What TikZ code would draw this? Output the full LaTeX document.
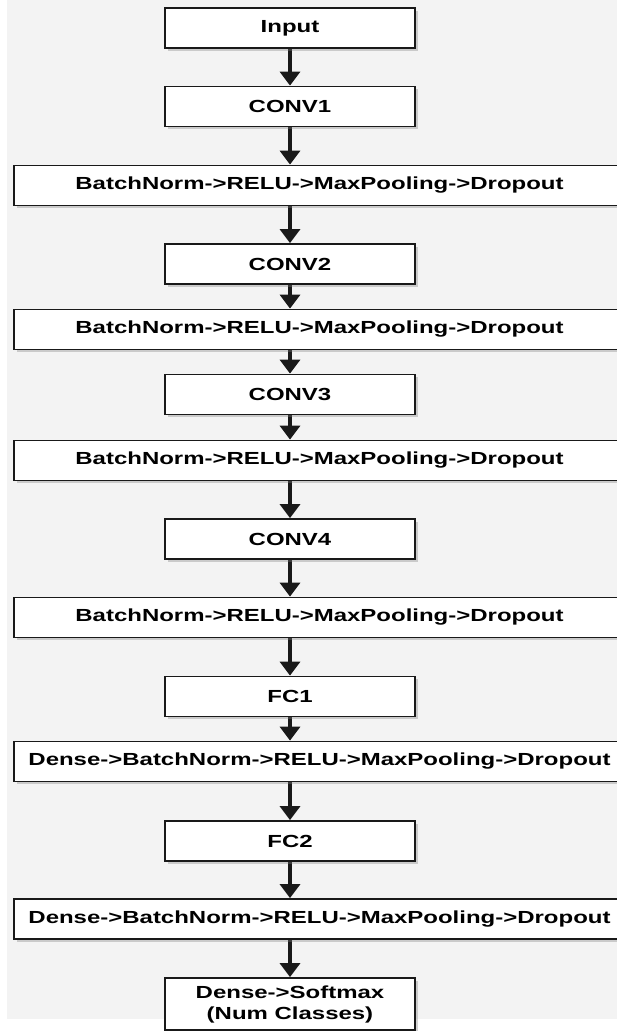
\documentclass[tikz,border=0pt]{standalone}
\usepackage{fontspec}
\setmainfont[FakeStretch=1.37]{Liberation Sans}
\usepackage{tikz}
\usetikzlibrary{arrows.meta,shadows}
\pgfdeclarelayer{bglayer}
\pgfdeclarelayer{edgelayer}
\pgfdeclarelayer{nodelayer}
\pgfsetlayers{bglayer,edgelayer,nodelayer,main}
\definecolor{paper}{RGB}{243,243,243}
\definecolor{ink}{RGB}{25,25,25}
\tikzstyle{layer}=[rectangle, fill=white, draw=ink, line width=1.8pt, minimum width=250pt, minimum height=40pt, inner sep=0pt, align=center, font=\fontsize{17.5}{21}\selectfont\bfseries, drop shadow={shadow xshift=2.5pt, shadow yshift=-2.5pt, opacity=0.35}]
\tikzstyle{stage}=[layer, minimum width=611pt]
\tikzstyle{flow}=[-{Triangle[length=14pt,width=20pt]}, draw=ink, line width=3.5pt]

\begin{document}
\begin{tikzpicture}[x=1pt, y=-1pt]
            \useasboundingbox (0,0) rectangle (617,1031);
            \begin{pgfonlayer}{bglayer}
                \fill [white] (0,0) rectangle (617,1031);
                \fill [paper] (7,0) rectangle (617,1019);
            \end{pgfonlayer}
            \begin{pgfonlayer}{nodelayer}
                \node [style=layer] (input) at (290, 28) {Input};
                \node [style=layer] (conv1) at (290, 106.5) {CONV1};
                \node [style=stage] (bn1) at (319.5, 185.5) {BatchNorm->RELU->MaxPooling->Dropout};
                \node [style=layer] (conv2) at (290, 264) {CONV2};
                \node [style=stage] (bn2) at (319.5, 329.5) {BatchNorm->RELU->MaxPooling->Dropout};
                \node [style=layer] (conv3) at (290, 394.5) {CONV3};
                \node [style=stage] (bn3) at (319.5, 460.5) {BatchNorm->RELU->MaxPooling->Dropout};
                \node [style=layer] (conv4) at (290, 539) {CONV4};
                \node [style=stage] (bn4) at (319.5, 617.5) {BatchNorm->RELU->MaxPooling->Dropout};
                \node [style=layer] (fc1) at (290, 696.5) {FC1};
                \node [style=stage] (dense1) at (319.5, 761.5) {Dense->BatchNorm->RELU->MaxPooling->Dropout};
                \node [style=layer] (fc2) at (290, 841) {FC2};
                \node [style=stage] (dense2) at (319.5, 919) {Dense->BatchNorm->RELU->MaxPooling->Dropout};
                \node [style=layer, minimum height=52pt] (out) at (290, 1004) {Dense->Softmax\\(Num Classes)};
            \end{pgfonlayer}
            \begin{pgfonlayer}{edgelayer}
                \draw [style=flow] (input) to (conv1);
                \draw [style=flow] (conv1.south) to (conv1.south |- bn1.north);
                \draw [style=flow] (conv1.south |- bn1.south) to (conv2.north);
                \draw [style=flow] (conv2.south) to (conv2.south |- bn2.north);
                \draw [style=flow] (conv2.south |- bn2.south) to (conv3.north);
                \draw [style=flow] (conv3.south) to (conv3.south |- bn3.north);
                \draw [style=flow] (conv3.south |- bn3.south) to (conv4.north);
                \draw [style=flow] (conv4.south) to (conv4.south |- bn4.north);
                \draw [style=flow] (conv4.south |- bn4.south) to (fc1.north);
                \draw [style=flow] (fc1.south) to (fc1.south |- dense1.north);
                \draw [style=flow] (fc1.south |- dense1.south) to (fc2.north);
                \draw [style=flow] (fc2.south) to (fc2.south |- dense2.north);
                \draw [style=flow] (fc2.south |- dense2.south) to (out.north);
            \end{pgfonlayer}
        \end{tikzpicture}
\end{document}
